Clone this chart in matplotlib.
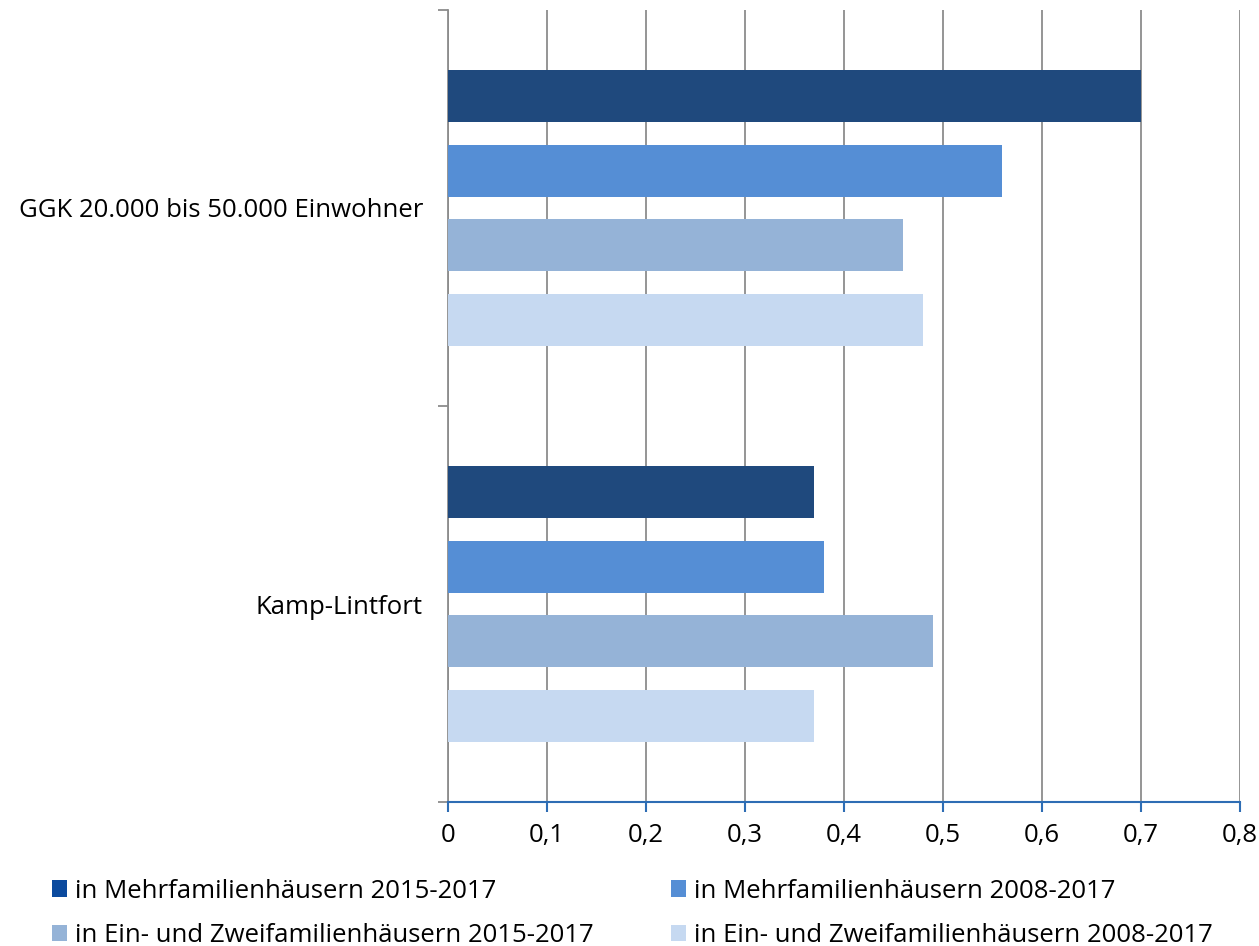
import matplotlib
matplotlib.use("Agg")
import matplotlib.pyplot as plt
from matplotlib.patches import Patch

plt.rcParams["font.family"] = ["Open Sans", "DejaVu Sans"]

kategorien = ["GGK 20.000 bis 50.000 Einwohner", "Kamp-Lintfort"]
serien = ["in Mehrfamilienhäusern 2015-2017",
          "in Mehrfamilienhäusern 2008-2017",
          "in Ein- und Zweifamilienhäusern 2015-2017",
          "in Ein- und Zweifamilienhäusern 2008-2017"]
werte = [
    [0.70, 0.37],
    [0.56, 0.38],
    [0.46, 0.49],
    [0.48, 0.37],
]
farben = ["#1F497D", "#558ED5", "#95B3D7", "#C6D9F1"]
legende_farben = ["#0B4A9E", "#558ED5", "#95B3D7", "#C6D9F1"]
xticks = [0, 0.1, 0.2, 0.3, 0.4, 0.5, 0.6, 0.7, 0.8]

fig = plt.figure(figsize=(12.59, 9.46), dpi=100)
ax = fig.add_axes([448 / 1259, 144 / 946, 792 / 1259, 792 / 946])

versatz = [-0.283, -0.094, 0.094, 0.283]
for s, (vals, col) in enumerate(zip(werte, farben)):
    pos = [i + 0.5 + versatz[s] for i in range(len(kategorien))]
    ax.barh(pos, vals, height=0.131, color=col, zorder=3)

ax.set_ylim(2, 0)
ax.set_xlim(0, 0.8)
ax.set_yticks([0.5, 1.5], kategorien, fontsize=18.5)
ax.set_yticks([0, 1, 2], minor=True)
ax.tick_params(axis="y", which="major", length=0, pad=18)
ax.tick_params(axis="y", which="minor", length=7, color="#8C8C8C", width=1.3)
ax.set_xticks(xticks, [f"{v:g}".replace(".", ",") for v in xticks], fontsize=18.5)
ax.tick_params(axis="x", length=7, color="#2E6DB4", width=1.5, pad=8)

ax.grid(axis="x", color="#8C8C8C", linewidth=1.3, zorder=0)
for side in ["top", "right"]:
    ax.spines[side].set_visible(False)
ax.spines["left"].set_color("#8C8C8C")
ax.spines["left"].set_linewidth(1.3)
ax.spines["bottom"].set_color("#2E6DB4")
ax.spines["bottom"].set_linewidth(1.5)
ax.spines["bottom"].set_zorder(4)

# Legende zeilenweise: matplotlib füllt spaltenweise, daher umsortieren
reihenfolge = [0, 2, 1, 3]
handles = [Patch(facecolor=legende_farben[i], edgecolor="none") for i in reihenfolge]
labels = [serien[i] for i in reihenfolge]
fig.legend(handles, labels, loc="upper left", bbox_to_anchor=(0.033, 0.082),
           ncol=2, frameon=False, fontsize=18.5, handlelength=0.6,
           handleheight=0.6, handletextpad=0.3, columnspacing=3.0,
           labelspacing=0.76, borderaxespad=0)

fig.savefig("out.png", dpi=100)
